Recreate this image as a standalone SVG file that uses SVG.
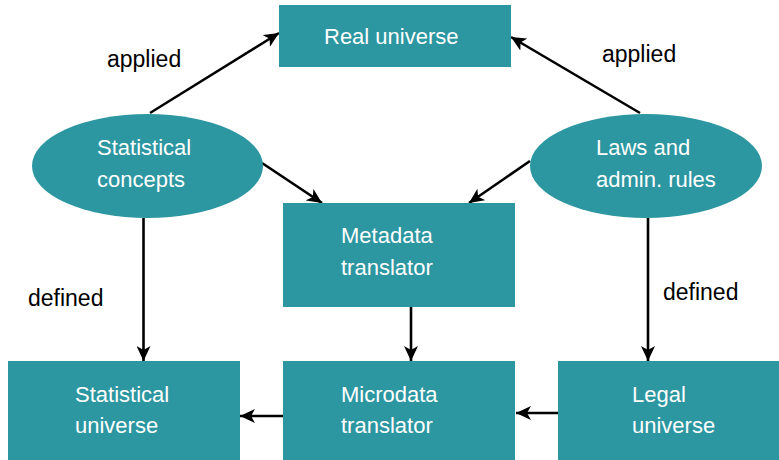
<svg xmlns="http://www.w3.org/2000/svg" width="779" height="460" viewBox="0 0 779 460">
<style>
.n{fill:#2c96a1}
.t{fill:#fff;font-family:"Liberation Sans",Arial,sans-serif;font-size:22px}
.l{fill:#000;font-family:"Liberation Sans",Arial,sans-serif;font-size:23px}
.c{stroke:#000;stroke-width:2.6;fill:none;marker-end:url(#ah)}
</style>
<defs>
<marker id="ah" markerUnits="userSpaceOnUse" markerWidth="16" markerHeight="14" refX="15" refY="7" orient="auto">
<path d="M0,0 L15,7 L0,14 L4,7 z" fill="#000"/>
</marker>
</defs>
<rect width="779" height="460" fill="#fff"/>
<g id="connectors">
<line class="c" x1="150" y1="113" x2="279" y2="33"/>
<line class="c" x1="640" y1="113" x2="511" y2="37"/>
<line class="c" x1="262" y1="163" x2="322" y2="203"/>
<line class="c" x1="530" y1="161" x2="469" y2="203"/>
<line class="c" x1="143.5" y1="218" x2="143.5" y2="361"/>
<line class="c" x1="648" y1="218" x2="648" y2="361"/>
<line class="c" x1="411" y1="307" x2="411" y2="361"/>
<line class="c" x1="283" y1="416" x2="240" y2="416"/>
<line class="c" x1="558" y1="413" x2="516" y2="413"/>
</g>
<g id="labels">
<text class="l" x="107" y="67">applied</text>
<text class="l" x="602" y="62">applied</text>
<text class="l" x="28" y="306">defined</text>
<text class="l" x="663" y="300">defined</text>
</g>
<g id="real-universe">
<rect class="n" x="279" y="5" width="232" height="62"/>
<text class="t" x="324" y="44">Real universe</text>
</g>
<g id="statistical-concepts">
<ellipse class="n" cx="147.5" cy="166" rx="115.5" ry="52"/>
<text class="t" x="97" y="155">Statistical</text>
<text class="t" x="97" y="187">concepts</text>
</g>
<g id="laws">
<ellipse class="n" cx="646" cy="166" rx="116" ry="52"/>
<text class="t" x="596" y="155">Laws and</text>
<text class="t" x="596" y="187">admin. rules</text>
</g>
<g id="metadata-translator">
<rect class="n" x="283" y="203" width="232" height="104"/>
<text class="t" x="341" y="243">Metadata</text>
<text class="t" x="341" y="275">translator</text>
</g>
<g id="statistical-universe">
<rect class="n" x="8" y="361" width="232" height="99"/>
<text class="t" x="75" y="402">Statistical</text>
<text class="t" x="75" y="433">universe</text>
</g>
<g id="microdata-translator">
<rect class="n" x="283" y="361" width="232" height="99"/>
<text class="t" x="341" y="402">Microdata</text>
<text class="t" x="341" y="433">translator</text>
</g>
<g id="legal-universe">
<rect class="n" x="558" y="361" width="221" height="99"/>
<text class="t" x="632" y="402">Legal</text>
<text class="t" x="632" y="433">universe</text>
</g>
</svg>
